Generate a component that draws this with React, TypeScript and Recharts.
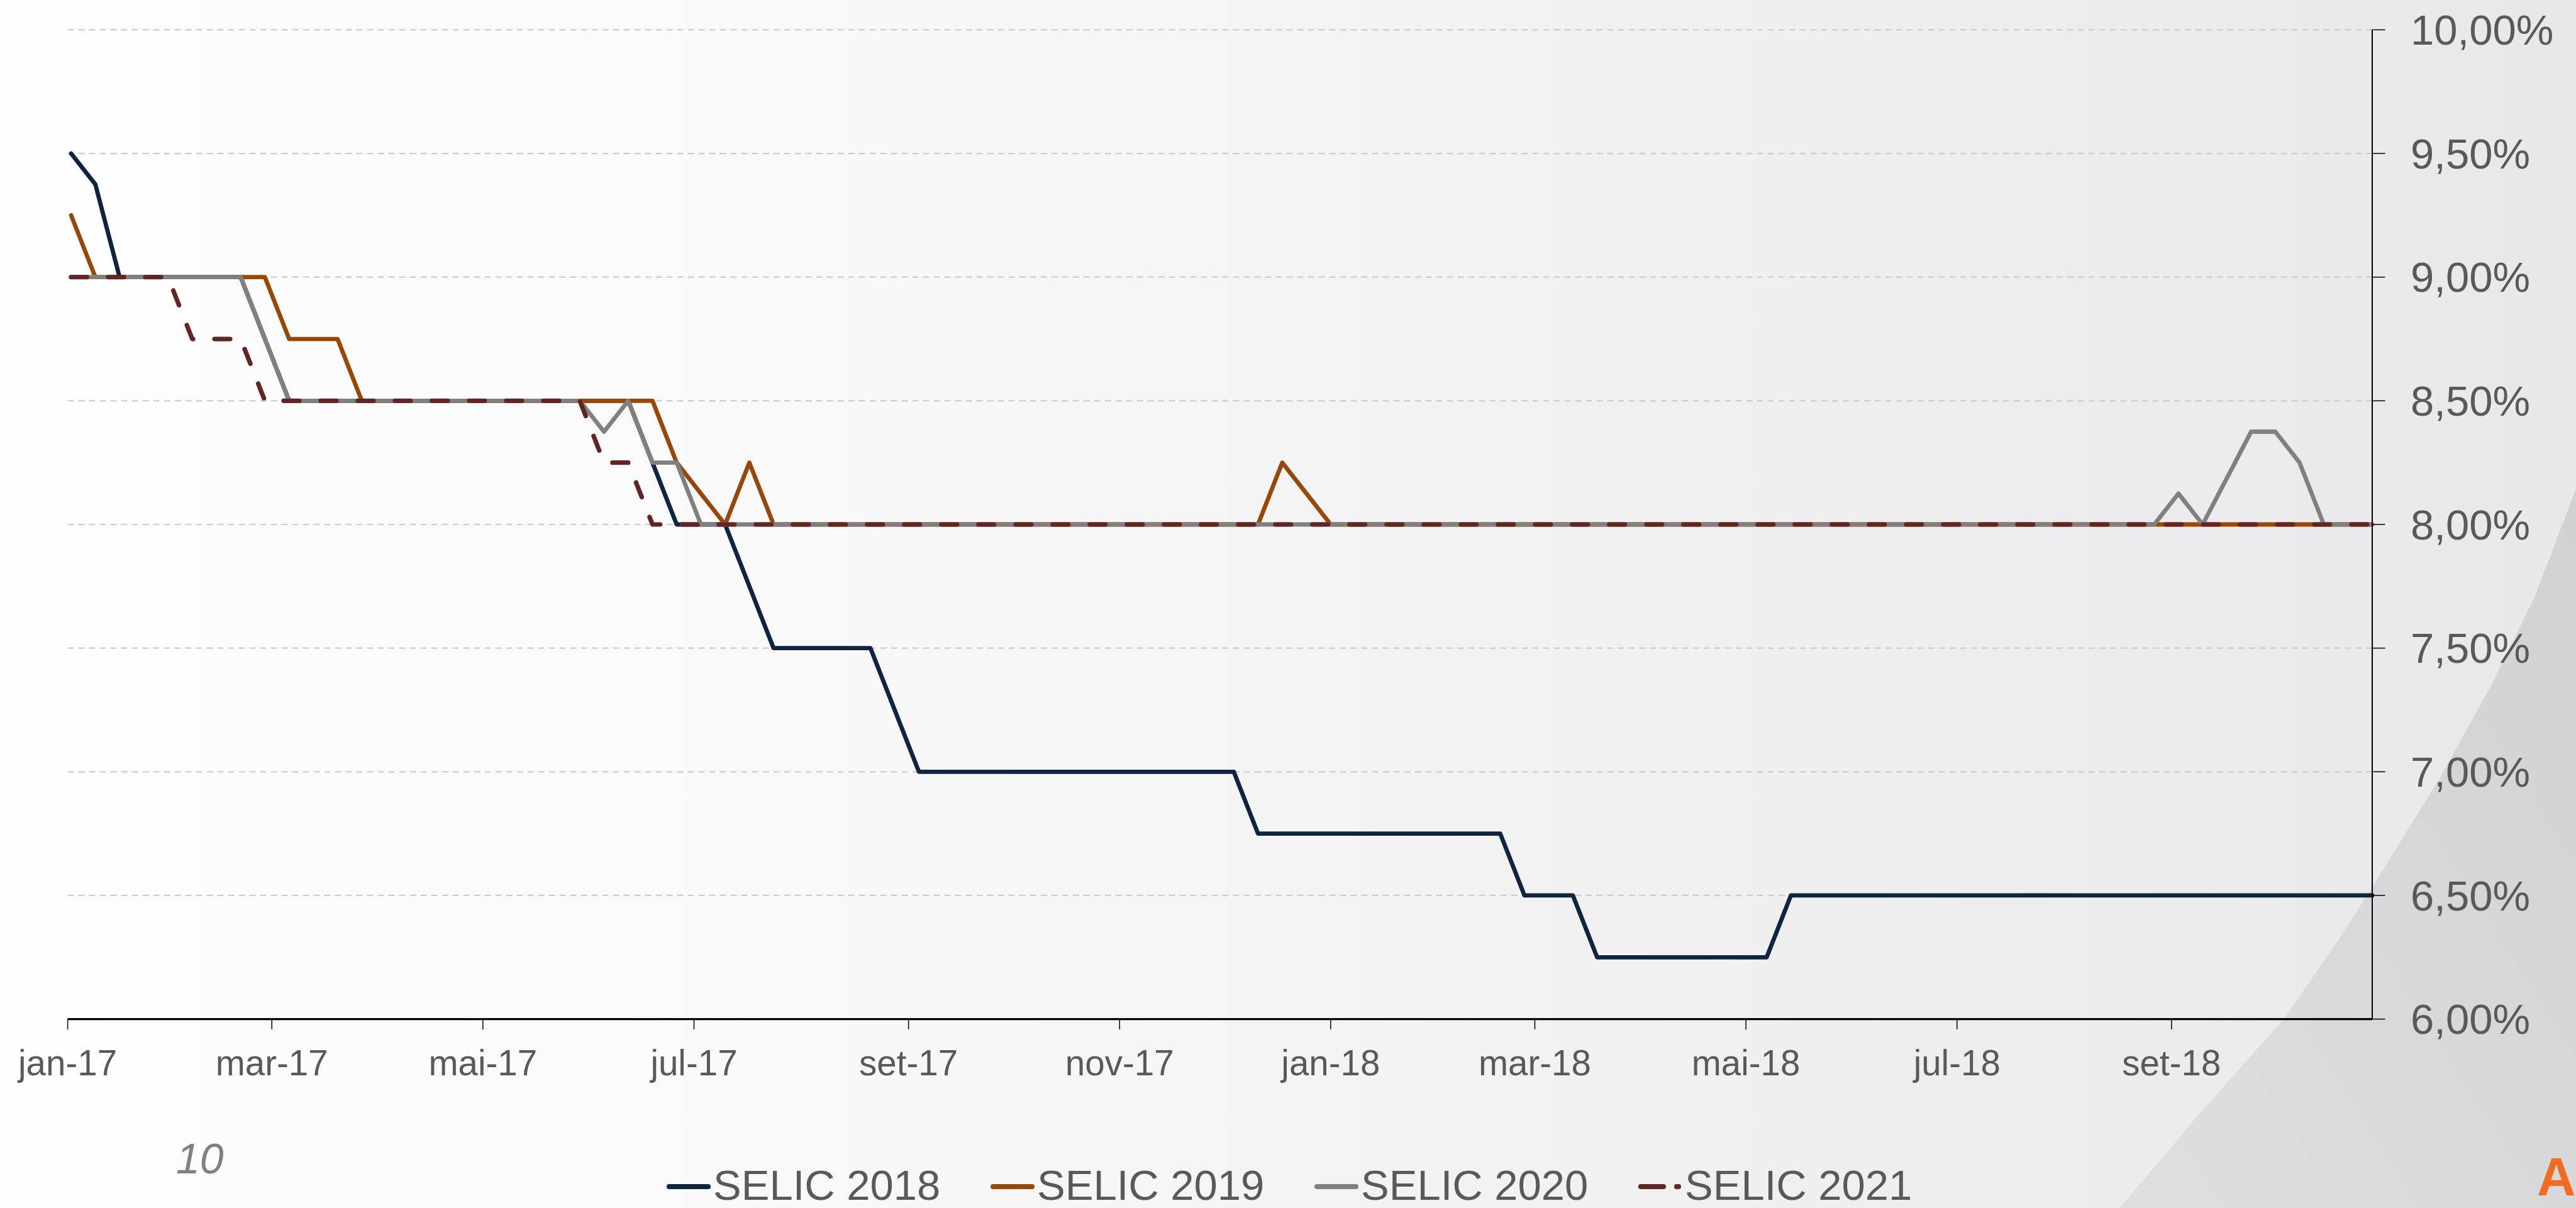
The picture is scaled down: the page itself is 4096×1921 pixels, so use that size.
// SELIC expectations (Focus survey) for year-end 2018-2021, weekly readings
// from Jan 2017 to Oct 2018. Lines only change where a vertex is listed.
import React from 'react';
import { LineChart, Line, XAxis, YAxis, CartesianGrid, Legend } from 'recharts';

const FONT = '"Liberation Sans", Arial, sans-serif';
const TEXT = '#595959';

const SERIES_NAMES = ['SELIC 2018', 'SELIC 2019', 'SELIC 2020', 'SELIC 2021'];
const SERIES_KEYS = ['s2018', 's2019', 's2020', 's2021'];
const SERIES_COLORS = ['#0f243e', '#974706', '#808080', '#632523'];

const SELIC_2018: [string, number][] = [
  ['2017-01-02', 9.5], ['2017-01-09', 9.375], ['2017-01-16', 9.0],
  ['2017-02-20', 9.0], ['2017-02-27', 8.75], ['2017-03-06', 8.5],
  ['2017-06-12', 8.5], ['2017-06-19', 8.25], ['2017-06-26', 8.0],
  ['2017-07-10', 8.0], ['2017-07-17', 7.75], ['2017-07-24', 7.5],
  ['2017-08-21', 7.5], ['2017-08-28', 7.25], ['2017-09-04', 7.0],
  ['2017-12-04', 7.0], ['2017-12-11', 6.75], ['2018-02-19', 6.75],
  ['2018-02-26', 6.5], ['2018-03-12', 6.5], ['2018-03-19', 6.25],
  ['2018-05-07', 6.25], ['2018-05-14', 6.5], ['2018-10-29', 6.5],
];

const SELIC_2019: [string, number][] = [
  ['2017-01-02', 9.25], ['2017-01-09', 9.0], ['2017-02-27', 9.0],
  ['2017-03-06', 8.75], ['2017-03-20', 8.75], ['2017-03-27', 8.5],
  ['2017-06-19', 8.5], ['2017-06-26', 8.25], ['2017-07-03', 8.125],
  ['2017-07-10', 8.0], ['2017-07-17', 8.25], ['2017-07-24', 8.0],
  ['2017-12-11', 8.0], ['2017-12-18', 8.25], ['2017-12-25', 8.125],
  ['2018-01-01', 8.0], ['2018-10-29', 8.0],
];

const SELIC_2020: [string, number][] = [
  ['2017-01-02', 9.0], ['2017-02-20', 9.0], ['2017-03-06', 8.5],
  ['2017-05-29', 8.5], ['2017-06-05', 8.375], ['2017-06-12', 8.5],
  ['2017-06-19', 8.25], ['2017-06-26', 8.25], ['2017-07-03', 8.0],
  ['2018-08-27', 8.0], ['2018-09-03', 8.125], ['2018-09-10', 8.0],
  ['2018-09-24', 8.375], ['2018-10-01', 8.375], ['2018-10-08', 8.25],
  ['2018-10-15', 8.0], ['2018-10-29', 8.0],
];

const SELIC_2021: [string, number][] = [
  ['2017-01-02', 9.0], ['2017-01-30', 9.0], ['2017-02-06', 8.75],
  ['2017-02-20', 8.75], ['2017-02-27', 8.5], ['2017-05-29', 8.5],
  ['2017-06-05', 8.25], ['2017-06-12', 8.25], ['2017-06-19', 8.0],
  ['2018-10-29', 8.0],
];

const TICK_DATES = [
  '2017-01-01', '2017-03-01', '2017-05-01', '2017-07-01', '2017-09-01', '2017-11-01',
  '2018-01-01', '2018-03-01', '2018-05-01', '2018-07-01', '2018-09-01',
];
const TICK_LABELS = [
  'jan-17', 'mar-17', 'mai-17', 'jul-17', 'set-17', 'nov-17',
  'jan-18', 'mar-18', 'mai-18', 'jul-18', 'set-18',
];
const LAST_DATE = '2018-10-29';
const Y_TICKS = [6, 6.5, 7, 7.5, 8, 8.5, 9, 9.5, 10];

const dayOf = (s: string) => (Date.parse(s) - Date.parse(TICK_DATES[0])) / 86400000;

const TICK_DAYS = TICK_DATES.map(dayOf);

// merge all vertex lists into one table keyed by day
const rows = (() => {
  const byDay = new Map<number, any>();
  [SELIC_2018, SELIC_2019, SELIC_2020, SELIC_2021].forEach((pts, i) => {
    pts.forEach(([d, v]) => {
      const day = dayOf(d);
      const row = byDay.get(day) ?? { day };
      row[SERIES_KEYS[i]] = v;
      byDay.set(day, row);
    });
  });
  return [...byDay.values()].sort((a, b) => a.day - b.day);
})();

const DASH_2021 = '25 34';

function LegendContent(props: any) {
  const items = props.payload ?? [];
  return (
    <div style={{ display: 'flex', fontFamily: FONT, fontSize: 67, color: TEXT, lineHeight: '60px' }}>
      {items.map((e: any) => {
        const dashed = !!e.payload?.strokeDasharray;
        return (
          <div key={e.value} style={{ display: 'flex', alignItems: 'center', width: 515, flex: 'none' }}>
            <svg width={70} height={60} style={{ display: 'block' }}>
              {dashed ? (
                <g stroke={e.color} strokeWidth={8} strokeLinecap="round">
                  <line x1={4} y1={32} x2={40} y2={32} />
                  <line x1={61} y1={32} x2={64} y2={32} />
                </g>
              ) : (
                <line x1={4} y1={32} x2={66} y2={32} stroke={e.color} strokeWidth={8} strokeLinecap="round" />
              )}
            </svg>
            <span style={{ marginLeft: 4, whiteSpace: 'nowrap' }}>{e.value}</span>
          </div>
        );
      })}
    </div>
  );
}

export default function App() {
  return (
    <div
      style={{
        position: 'absolute',
        left: 0,
        top: 0,
        width: 4096,
        height: 1921,
        overflow: 'hidden',
        background: 'linear-gradient(90deg, #fefefe 0%, #f9f9f9 30%, #f1f1f2 62%, #e8e8ea 100%)',
      }}
    >
      {/* slide decoration: grey swoosh bottom right, page number, logo letter */}
      <svg width={4096} height={1921} style={{ position: 'absolute', left: 0, top: 0 }}>
        <defs>
          <linearGradient id="swoosh" x1="1" y1="0" x2="0" y2="1">
            <stop offset="0%" stopColor="#d1d1d3" />
            <stop offset="100%" stopColor="#dfdfe1" />
          </linearGradient>
        </defs>
        <path
          d="M3370,1921 L3500,1768 L3632,1620 L3720,1492 L3795,1374 L3880,1236 L3958,1096 L4030,950 L4096,777 L4096,1921 Z"
          fill="url(#swoosh)"
        />
        <text x={280} y={1866} fontFamily={FONT} fontStyle="italic" fontSize={68} fill="#808080">
          10
        </text>
        <text x={4034} y={1901} fontFamily={FONT} fontWeight="bold" fontSize={85} fill="#f26b1f">
          A
        </text>
      </svg>
      <div style={{ position: 'absolute', left: 0, top: 0 }}>
        <LineChart
          width={4096}
          height={1921}
          data={rows}
          margin={{ top: 47.4, right: 24, bottom: 180.4, left: 107.6 }}
        >
          <CartesianGrid vertical={false} stroke="#cdcdcd" strokeWidth={2.2} strokeDasharray="10 7" />
          <XAxis
            dataKey="day"
            type="number"
            domain={[0, dayOf(LAST_DATE)]}
            ticks={TICK_DAYS}
            interval={0}
            tickFormatter={(v: number) => TICK_LABELS[TICK_DAYS.indexOf(v)] ?? ''}
            height={120}
            axisLine={{ stroke: '#000', strokeWidth: 3.2 }}
            tickLine={{ stroke: '#000', strokeWidth: 1.5 }}
            tickSize={16.4}
            tickMargin={33}
            tick={{ fill: TEXT, fontSize: 56.5, fontFamily: FONT }}
          />
          <YAxis
            orientation="right"
            type="number"
            domain={[6, 10]}
            ticks={Y_TICKS}
            interval={0}
            width={300}
            tickFormatter={(v: number) => v.toFixed(2).replace('.', ',') + '%'}
            axisLine={{ stroke: '#000', strokeWidth: 2 }}
            tickLine={{ stroke: '#000', strokeWidth: 1.5 }}
            tickSize={20.5}
            tickMargin={40.5}
            tick={{ fill: TEXT, fontSize: 67, fontFamily: FONT }}
          />
          {SERIES_KEYS.map((k, i) => (
            <Line
              key={k}
              type="linear"
              dataKey={k}
              name={SERIES_NAMES[i]}
              stroke={SERIES_COLORS[i]}
              strokeWidth={i === 3 ? 7.2 : 6.8}
              strokeDasharray={i === 3 ? DASH_2021 : undefined}
              strokeLinecap="round"
              strokeLinejoin="round"
              connectNulls
              dot={false}
              activeDot={false}
              isAnimationActive={false}
            />
          ))}
          <Legend
            layout="horizontal"
            verticalAlign="middle"
            align="center"
            wrapperStyle={{ left: 1060, top: 1855, width: 2200, height: 60 }}
            content={LegendContent}
          />
        </LineChart>
      </div>
    </div>
  );
}
